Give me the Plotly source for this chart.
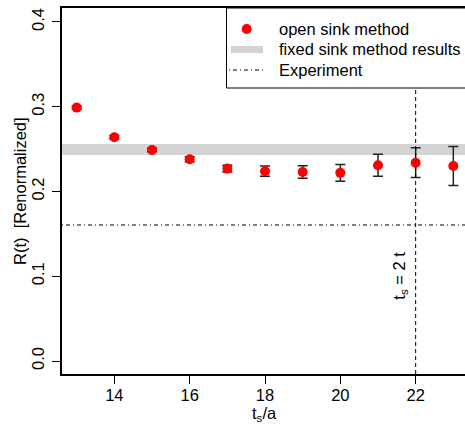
import plotly.graph_objects as go

# ---- data ----
ts = [13, 14, 15, 16, 17, 18, 19, 20, 21, 22, 23]
R_open = [0.299, 0.264, 0.249, 0.238, 0.227, 0.224, 0.223, 0.222, 0.231, 0.234, 0.230]
R_err = [0.002, 0.002, 0.002, 0.003, 0.004, 0.006, 0.0075, 0.010, 0.013, 0.0175, 0.023]
fixed_center = 0.2495
fixed_half = 0.0065
experiment = 0.1605
ts_eq_2t = 22
x_ticks = [14, 16, 18, 20, 22]
y_ticks = [0.0, 0.1, 0.2, 0.3, 0.4]
y_ticklabels = ["0.0", "0.1", "0.2", "0.3", "0.4"]
legend_labels = ["open sink method", "fixed sink method results", "Experiment"]

FONT = "Liberation Sans, Arial, Helvetica, sans-serif"
W, H = 465, 424
L, T, B = 62, 8, 50
PW, PH = W - L, H - T - B


def px(xp):
    return (xp - L) / PW


def py(yp):
    return (H - B - yp) / PH


DASHDOT = "1px,3px,4px,3px"

fig = go.Figure()

fig.add_trace(go.Scatter(
    x=ts, y=R_open, mode="markers", name=legend_labels[0],
    marker=dict(color="#ff0000", size=10, line=dict(width=0)),
    error_y=dict(type="data", array=R_err, visible=True, color="#222222",
                 thickness=1.5, width=5),
))

# fixed-sink band
fig.add_shape(type="rect", xref="x domain", yref="y", x0=0, x1=1,
              y0=fixed_center - fixed_half, y1=fixed_center + fixed_half,
              fillcolor="#d3d3d3", line=dict(width=0), layer="below")
# experiment line
fig.add_shape(type="line", xref="x domain", yref="y", x0=0, x1=1,
              y0=experiment, y1=experiment,
              line=dict(color="black", width=1, dash=DASHDOT))
# ts = 2t line
fig.add_shape(type="line", xref="x", yref="y domain", x0=ts_eq_2t, x1=ts_eq_2t,
              y0=0, y1=1, line=dict(color="black", width=1, dash="4px,3px"))

# ---- legend box (drawn manually) ----
fig.add_shape(type="rect", xref="paper", yref="paper",
              x0=px(226.5), x1=px(475), y0=py(88), y1=py(8),
              fillcolor="white", line=dict(color="black", width=1))
fig.add_shape(type="circle", xref="paper", yref="paper",
              x0=px(241.7), x1=px(251.7), y0=py(34), y1=py(24),
              fillcolor="#ff0000", line=dict(width=0))
fig.add_shape(type="line", xref="paper", yref="paper",
              x0=px(231), x1=px(263), y0=py(49.5), y1=py(49.5),
              line=dict(color="#d3d3d3", width=7))
fig.add_shape(type="line", xref="paper", yref="paper",
              x0=px(229), x1=px(265), y0=py(70), y1=py(70),
              line=dict(color="black", width=1, dash=DASHDOT))
for lab, yy in zip(legend_labels, [29, 49.5, 70]):
    fig.add_annotation(x=px(276.5), y=py(yy), xref="paper", yref="paper",
                       xanchor="left", yanchor="middle", text=lab,
                       showarrow=False,
                       font=dict(family=FONT, size=16.5, color="black"))

fig.add_annotation(x=ts_eq_2t, xref="x", xshift=-16, y=py(276), yref="paper",
                   xanchor="center", yanchor="middle",
                   text="t<sub>s</sub> = 2 t", textangle=-90, showarrow=False,
                   font=dict(family=FONT, size=16.5, color="black"))
fig.add_annotation(x=px(264.5), xref="paper", y=py(414), yref="paper",
                   xanchor="center", yanchor="middle",
                   text="t<sub>s</sub>/a", showarrow=False,
                   font=dict(family=FONT, size=16.5, color="black"))
fig.add_annotation(x=px(20), xref="paper", y=py(191), yref="paper",
                   xanchor="center", yanchor="middle",
                   text="R(t)  [Renormalized]", textangle=-90, showarrow=False,
                   font=dict(family=FONT, size=16.5, color="black"))

fig.update_layout(
    width=W, height=H,
    margin=dict(l=L, r=0, t=T, b=B),
    paper_bgcolor="white", plot_bgcolor="white",
    font=dict(family=FONT, size=16.5, color="black"),
    showlegend=False,
    xaxis=dict(range=[12.61, 23.31], tickvals=x_ticks, ticks="outside",
               ticklen=8, tickwidth=1, tickcolor="black", showline=True,
               linecolor="black", linewidth=1.5, mirror=True, showgrid=False,
               zeroline=False, ticklabelstandoff=-3,
               tickfont=dict(family=FONT, size=16.5)),
    yaxis=dict(range=[-0.0153, 0.4165], tickvals=y_ticks, ticktext=y_ticklabels,
               tickangle=-90, ticks="outside", ticklen=8, tickwidth=1,
               tickcolor="black", showline=True, linecolor="black",
               linewidth=1.5, mirror=False, showgrid=False, zeroline=False,
               ticklabelstandoff=2,
               tickfont=dict(family=FONT, size=16.5)),
)

fig.write_html("out.html")
